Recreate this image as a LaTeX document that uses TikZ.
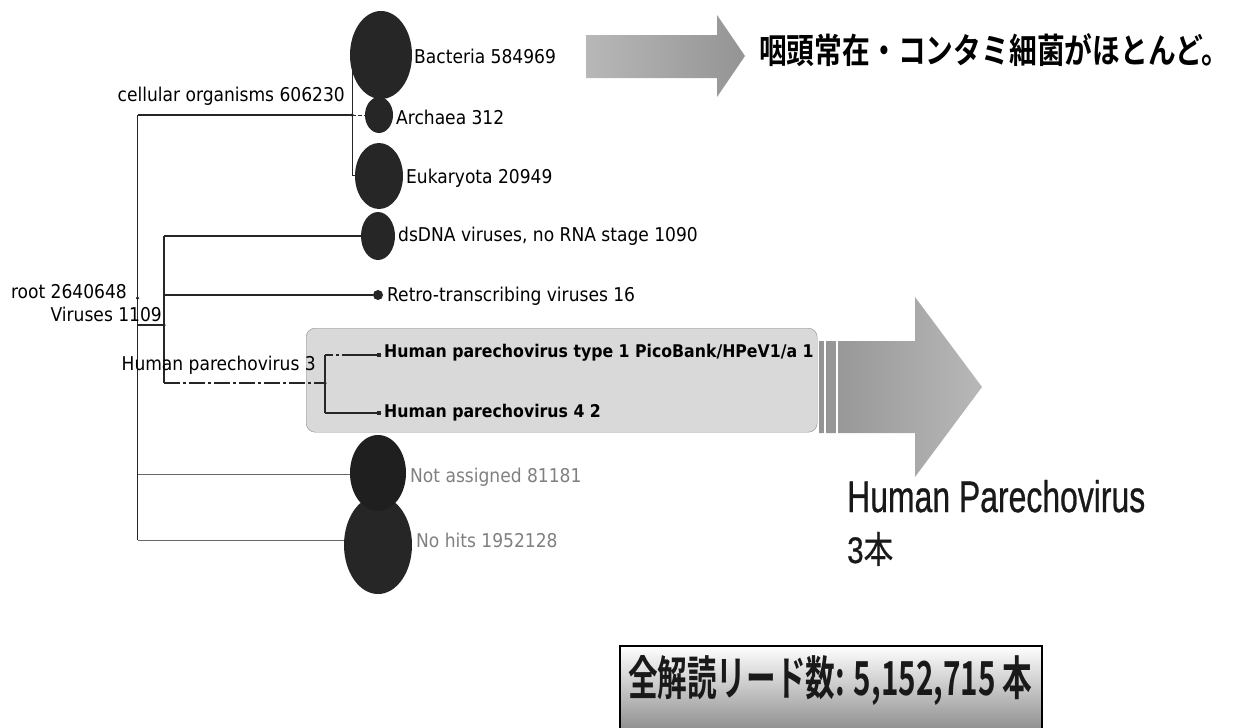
\documentclass[tikz,border=0pt]{standalone}
\usepackage{fontspec}
\setmainfont{DejaVu Sans Condensed}
\newfontfamily\jpb{Noto Sans CJK JP Bold}
\newfontfamily\jpr{Noto Sans CJK JP}[FakeBold=0.6]
\newfontfamily\arialf{Liberation Sans}[FakeBold=0.8]
\usetikzlibrary{shapes.geometric}
\begin{document}
\begin{tikzpicture}[x=1pt,y=-1pt,
  tl/.style={draw=black!85,line width=1.4pt},
  thin/.style={draw=black!60,line width=1pt},
  blob/.style={ellipse,fill=black!85,inner sep=0pt},
  jdot/.style={circle,fill=black!85,minimum size=3.5pt,inner sep=0pt},
  sqm/.style={rectangle,fill=black!85,minimum size=4pt,inner sep=0pt},
  lab/.style={font=\fontsize{19}{19}\selectfont,inner sep=0pt,text=black},
  blab/.style={font=\fontsize{17.5}{17.5}\selectfont\bfseries,inner sep=0pt,text=black},
  glab/.style={font=\fontsize{19}{19}\selectfont,inner sep=0pt,text=black!50},
  ddot/.style={dash pattern=on 16pt off 3pt on 3pt off 3pt}]
\useasboundingbox (0,0) rectangle (1242,728);

% highlight box
\node[draw=black!45,fill=black!15,rounded corners=9pt,minimum width=511pt,minimum height=104pt,inner sep=0pt,anchor=north west] (hl) at (306,328) {};

% top arrow
\shade[left color=black!28,right color=black!42] (586,35) -- (717,35) -- (717,15) -- (745,56) -- (717,97) -- (717,78) -- (586,78) -- cycle;
% big arrow
\shade[left color=black!42,right color=black!28] (819,341) -- (915,341) -- (915,297) -- (982,387) -- (915,477) -- (915,433) -- (819,433) -- cycle;
\draw[white,line width=2pt] (824.5,339) -- (824.5,435);
\draw[white,line width=2pt] (836.5,339) -- (836.5,435);

% coordinates
\coordinate (rT) at (137.5,115);
\coordinate (rV) at (137.5,325);
\coordinate (rN) at (137.5,474);
\coordinate (rB) at (137.5,540);
\coordinate (cJ) at (352,115);
\coordinate (cT) at (352,53);
\coordinate (cB) at (352,175);
\coordinate (vT) at (164,236);
\coordinate (vR) at (164,295);
\coordinate (vJ) at (164,325);
\coordinate (vB) at (164,383);
\coordinate (hJ) at (325,383);
\coordinate (hT) at (325,355);
\coordinate (hB) at (325,413);

% ellipses
\node[blob,minimum width=68pt,minimum height=98pt] (nh) at (378,545) {};
\node[blob,fill=black!88,minimum width=56pt,minimum height=76pt] (na) at (378,473) {};
\node[blob,minimum width=28pt,minimum height=36pt] (arc) at (379,115) {};
\node[blob,minimum width=62pt,minimum height=88pt] (bac) at (381,55) {};
\node[blob,minimum width=48pt,minimum height=66pt] (euk) at (379,176) {};
\node[blob,minimum width=34pt,minimum height=48pt] (ds) at (378,236) {};
\node[circle,fill=black!85,minimum size=10pt,inner sep=0pt] (retro) at (378,295) {};
\node[sqm] (sq1) at (379,355) {};
\node[sqm] (sq2) at (379,413) {};

% tree lines
\draw[tl] (rT) -- (rB);
\draw[tl] (rT) -- (cJ);
\draw[tl,line width=1pt] (cT) -- (bac.west |- cT);
\draw[tl,line width=1pt] (cJ) -- (cB);
\draw[tl,line width=1pt] (cJ) -- (cT);
\draw[tl,line width=1pt,dash pattern=on 4pt off 2pt] (cJ) -- (arc.west);
\draw[tl,line width=1pt] (cB) -- (euk.west |- cB);
\draw[tl] (rV) -- (vJ);
\draw[tl] (vT) -- (vB);
\draw[tl] (vT) -- (ds.west);
\draw[tl] (vR) -- (retro.west);
\draw[tl,ddot] (vB) -- (hJ);
\draw[tl] (hT) -- (hB);
\draw[tl,dash pattern=on 8pt off 3pt on 3pt off 3pt on 40pt] (hT) -- (sq1.west);
\draw[tl] (hB) -- (sq2.west);
\draw[thin] (rN) -- (rN -| na.west);
\draw[thin] (rB) -- (rB -| nh.west);

% junction dots
\node[jdot] (dR) at (137.5,298) {};
\node[jdot] (dC) at (352,115) {};
\node[jdot] (dV) at (164,325) {};
\node[jdot] (dH) at (325,383) {};

% tree labels
\node[lab,anchor=west] (tbac) at (414,56) {Bacteria 584969};
\node[lab,anchor=east] (tcel) at (345,96) {cellular organisms 606230};
\node[lab,anchor=west] (tarc) at (396,117) {Archaea 312};
\node[lab,anchor=west] (teuk) at (406,178) {Eukaryota 20949};
\node[lab,anchor=west] (tds) at (398,236) {dsDNA viruses, no RNA stage 1090};
\node[lab,anchor=east] (troot) at (127,292) {root 2640648};
\node[lab,anchor=east] (tvir) at (162,314) {Viruses 1109};
\node[lab,anchor=west] (tret) at (387,296) {Retro-transcribing viruses 16};
\node[lab,anchor=east] (thp) at (316,365) {Human parechovirus 3};
\node[blab,anchor=west] (thp1) at (384,353) {Human parechovirus type 1 PicoBank/HPeV1/a 1};
\node[blab,anchor=west] (thp4) at (384,413) {Human parechovirus 4 2};
\node[glab,anchor=west] (tna) at (410,477) {Not assigned 81181};
\node[glab,anchor=west] (tnh) at (416,540) {No hits 1952128};

% right side texts
\node[inner sep=0pt,anchor=west] (tjp) at (759,50) {\resizebox{470pt}{30pt}{\jpb 咽頭常在・コンタミ細菌がほとんど。}};
\node[inner sep=0pt,anchor=base west,text=black!90] (thpv) at (847,512) {\resizebox{298pt}{32pt}{\arialf Human Parechovirus}};
\node[inner sep=0pt,anchor=base west,text=black!90] (t3) at (847,563) {\resizebox{46pt}{31pt}{\arialf 3\jpr 本}};

% bottom box
\node[draw=black,line width=1.5pt,top color=white,bottom color=black!45,minimum width=422pt,minimum height=86pt,anchor=north west,inner sep=0pt] (tot) at (619,645) {};
\node[inner sep=0pt,text=black!90] (tott) at (830,681) {\resizebox{404pt}{40pt}{\jpb 全解読リード数: 5,152,715 本}};
\end{tikzpicture}
\end{document}
